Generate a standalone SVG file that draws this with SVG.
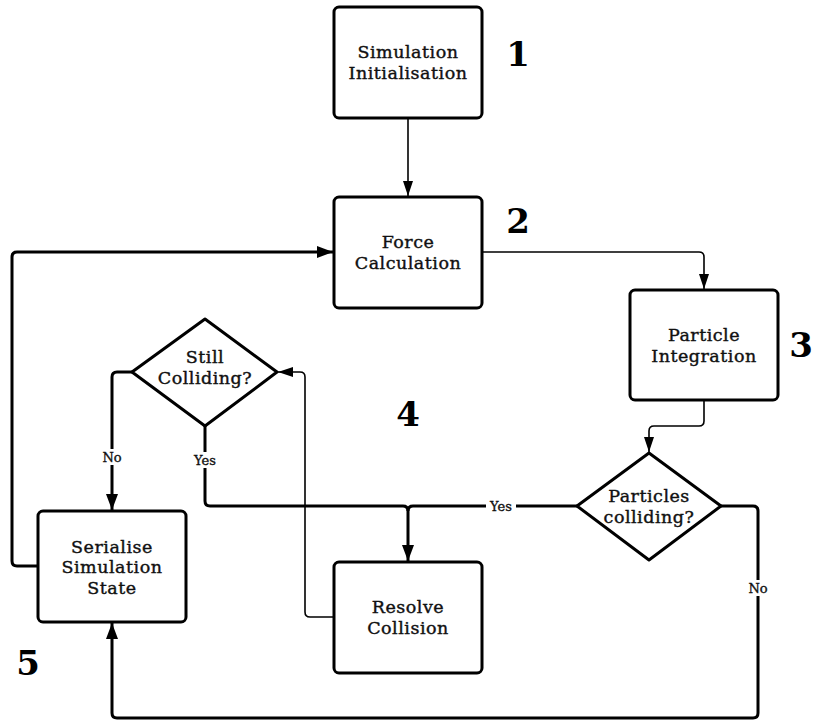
<svg xmlns="http://www.w3.org/2000/svg" width="817" height="721" viewBox="0 0 817 721">
<style>
.box{fill:#fff;stroke:#000;stroke-width:3;stroke-linejoin:round}
.t{font-family:"DejaVu Serif","Liberation Serif",serif;font-size:17.5px;letter-spacing:0.5px;text-anchor:middle;fill:#111;stroke:#111;stroke-width:0.4}
.n{font-family:"DejaVu Serif","Liberation Serif",serif;font-size:34px;font-weight:bold;text-anchor:middle;fill:#000}
.thin{fill:none;stroke:#000;stroke-width:1.6;stroke-linejoin:round}
.thick{fill:none;stroke:#000;stroke-width:3;stroke-linejoin:round}
.lbl{font-family:"DejaVu Serif","Liberation Serif",serif;font-size:13px;text-anchor:middle;fill:#111;stroke:#111;stroke-width:0.35}
</style>
<defs>
<marker id="ah" markerUnits="userSpaceOnUse" markerWidth="18" markerHeight="12" refX="16" refY="6" orient="auto">
<path d="M0,0 L16,6 L0,12 z" fill="#000"/>
</marker>
<marker id="ahs" markerUnits="userSpaceOnUse" markerWidth="16" markerHeight="11" refX="15" refY="5" orient="auto">
<path d="M0,0 L15,5 L0,10 z" fill="#000"/>
</marker>
</defs>
<g id="connectors">
<path class="thin" d="M408,118 V196" marker-end="url(#ahs)"/>
<path class="thin" d="M482,252 H699 Q704,252 704,257 V289" marker-end="url(#ahs)"/>
<path class="thin" d="M704,400 V421 Q704,426 699,426 H654 Q649,426 649,431 V452" marker-end="url(#ahs)"/>
<path class="thick" d="M577,506 H413 Q408,506 408,511 V561" marker-end="url(#ah)"/>
<path class="thick" d="M205,426 V501 Q205,506 210,506 H403 Q408,506 408,511"/>
<path class="thick" d="M721,506 H753 Q758,506 758,511 V713 Q758,718 753,718 H117 Q112,718 112,713 V623" marker-end="url(#ah)"/>
<path class="thick" d="M132,372 H117 Q112,372 112,377 V510" marker-end="url(#ah)"/>
<path class="thin" d="M334,617 H310 Q305,617 305,612 V377 Q305,372 300,372 H278" marker-end="url(#ahs)"/>
<path class="thick" d="M38,566 H17 Q12,566 12,561 V257 Q12,252 17,252 H333" marker-end="url(#ah)"/>
<rect x="98" y="449" width="28" height="16" fill="#fff"/>
<text class="lbl" x="112" y="462">No</text>
<rect x="190" y="452" width="30" height="16" fill="#fff"/>
<text class="lbl" x="205" y="465">Yes</text>
<rect x="486" y="499" width="30" height="15" fill="#fff"/>
<text class="lbl" x="501" y="511">Yes</text>
<rect x="744" y="580" width="28" height="16" fill="#fff"/>
<text class="lbl" x="758" y="593">No</text>
</g>
<g id="init">
<rect class="box" x="334" y="7" width="148" height="111" rx="5"/>
<text class="t" x="408" y="58">Simulation</text>
<text class="t" x="408" y="79">Initialisation</text>
</g>
<g id="force">
<rect class="box" x="334" y="197" width="148" height="111" rx="5"/>
<text class="t" x="408" y="248">Force</text>
<text class="t" x="408" y="269">Calculation</text>
</g>
<g id="integration">
<rect class="box" x="630" y="290" width="148" height="110" rx="5"/>
<text class="t" x="704" y="341">Particle</text>
<text class="t" x="704" y="362">Integration</text>
</g>
<g id="particles-colliding">
<path class="box" d="M649,453 L721,506 L649,560 L577,506 Z"/>
<text class="t" x="649" y="502">Particles</text>
<text class="t" x="649" y="523">colliding?</text>
</g>
<g id="still-colliding">
<path class="box" d="M205,319 L277,372 L205,426 L132,372 Z"/>
<text class="t" x="205" y="363">Still</text>
<text class="t" x="205" y="384">Colliding?</text>
</g>
<g id="serialise">
<rect class="box" x="38" y="511" width="148" height="111" rx="5"/>
<text class="t" x="112" y="553">Serialise</text>
<text class="t" x="112" y="573">Simulation</text>
<text class="t" x="112" y="594">State</text>
</g>
<g id="resolve">
<rect class="box" x="334" y="562" width="148" height="111" rx="5"/>
<text class="t" x="408" y="613">Resolve</text>
<text class="t" x="408" y="634">Collision</text>
</g>
<g id="numbers">
<text class="n" x="518" y="66">1</text>
<text class="n" x="518" y="233">2</text>
<text class="n" x="801" y="357">3</text>
<text class="n" x="408" y="426">4</text>
<text class="n" x="28" y="675">5</text>
</g>
</svg>
